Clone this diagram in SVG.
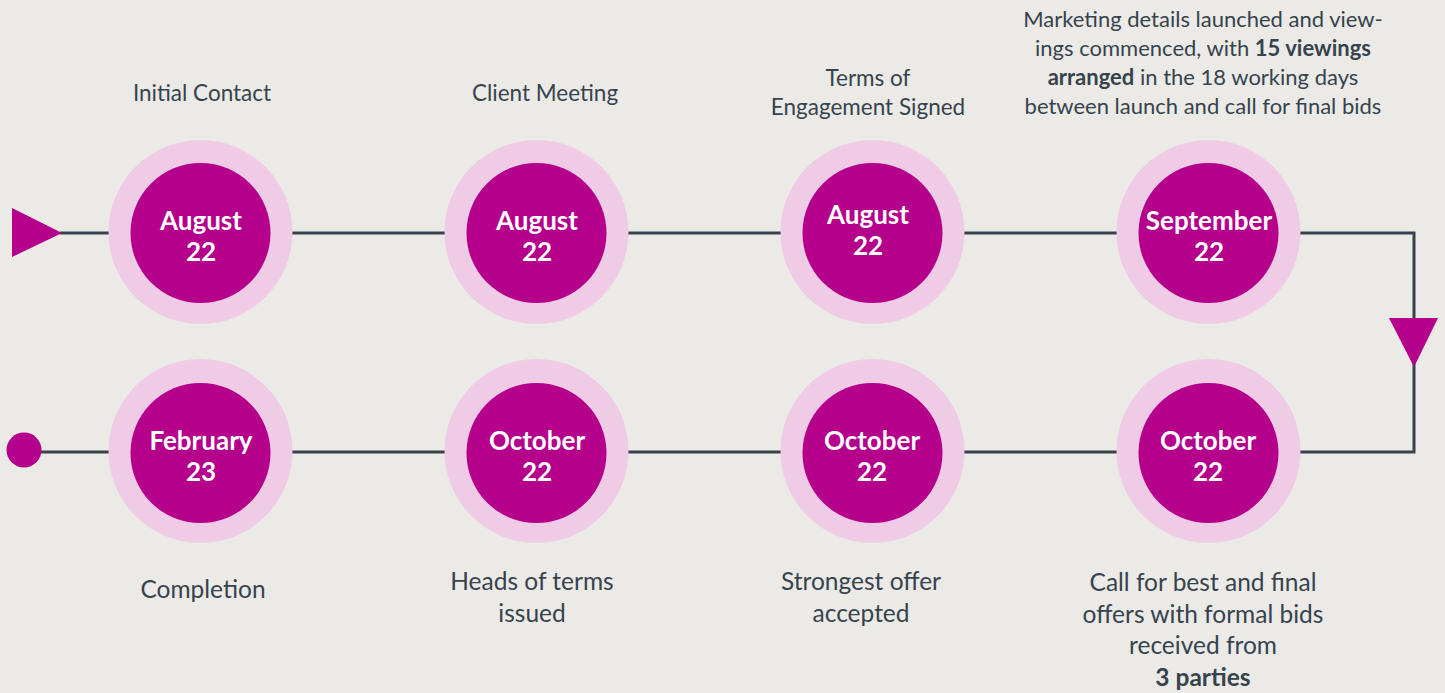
<svg xmlns="http://www.w3.org/2000/svg" width="1445" height="693" viewBox="0 0 1445 693">
<style>
.bg{fill:#ebeae6}
.outer{fill:#f0cbe5}
.inner{fill:#b4008b}
.date{font-family:Lato,"Open Sans",sans-serif;font-weight:700;font-size:26px;fill:#ffffff;text-anchor:middle}
.lbl{font-family:Lato,"Open Sans",sans-serif;font-size:22.5px;fill:#36434d;text-anchor:middle}
.sm{font-size:22px}
.lg{font-size:24.5px}
.b{font-weight:700}
.line{fill:none;stroke:#36434d;stroke-width:3}
.mark{fill:#b4008b}
</style>
<rect class="bg" x="0" y="0" width="1445" height="693"/>
<g id="connectors">
<path class="line" d="M60 233 H1414 V452 H24"/>
<polygon class="mark" points="12,208 12,257 62,233"/>
<polygon class="mark" points="1389,318 1438,318 1414,367"/>
<circle class="mark" cx="24" cy="450" r="17.5"/>
</g>
<g id="n1">
<circle class="outer" cx="200.5" cy="232" r="92"/>
<circle class="inner" cx="200.5" cy="233" r="70"/>
<text class="date" x="201" y="230">August</text>
<text class="date" x="201" y="261">22</text>
<text class="lbl" x="202" y="101">Initial Contact</text>
</g>
<g id="n2">
<circle class="outer" cx="536.5" cy="232" r="92"/>
<circle class="inner" cx="536.5" cy="233" r="70"/>
<text class="date" x="537" y="230">August</text>
<text class="date" x="537" y="261">22</text>
<text class="lbl" x="545" y="101">Client Meeting</text>
</g>
<g id="n3">
<circle class="outer" cx="872.5" cy="232" r="92"/>
<circle class="inner" cx="872.5" cy="233" r="70"/>
<text class="date" x="868" y="224">August</text>
<text class="date" x="868" y="255">22</text>
<text class="lbl" x="868" y="86">Terms of</text>
<text class="lbl" x="868" y="115">Engagement Signed</text>
</g>
<g id="n4">
<circle class="outer" cx="1208.5" cy="232" r="92"/>
<circle class="inner" cx="1208.5" cy="233" r="70"/>
<text class="date" x="1209" y="230">September</text>
<text class="date" x="1209" y="261">22</text>
<text class="lbl sm" x="1203" y="27">Marketing details launched and view-</text>
<text class="lbl sm" x="1203" y="56">ings commenced, with <tspan class="b">15 viewings</tspan></text>
<text class="lbl sm" x="1203" y="85"><tspan class="b">arranged</tspan> in the 18 working days</text>
<text class="lbl sm" x="1203" y="114">between launch and call for final bids</text>
</g>
<g id="n5">
<circle class="outer" cx="1208.5" cy="451" r="92"/>
<circle class="inner" cx="1208.5" cy="453" r="70"/>
<text class="date" x="1208" y="450">October</text>
<text class="date" x="1208" y="481">22</text>
<text class="lbl lg" x="1203" y="591">Call for best and final</text>
<text class="lbl lg" x="1203" y="623">offers with formal bids</text>
<text class="lbl lg" x="1203" y="654">received from</text>
<text class="lbl lg b" x="1203" y="686">3 parties</text>
</g>
<g id="n6">
<circle class="outer" cx="872.5" cy="451" r="92"/>
<circle class="inner" cx="872.5" cy="453" r="70"/>
<text class="date" x="872" y="450">October</text>
<text class="date" x="872" y="481">22</text>
<text class="lbl lg" x="861" y="590">Strongest offer</text>
<text class="lbl lg" x="861" y="622">accepted</text>
</g>
<g id="n7">
<circle class="outer" cx="536.5" cy="451" r="92"/>
<circle class="inner" cx="536.5" cy="453" r="70"/>
<text class="date" x="537" y="450">October</text>
<text class="date" x="537" y="481">22</text>
<text class="lbl lg" x="532" y="590">Heads of terms</text>
<text class="lbl lg" x="532" y="622">issued</text>
</g>
<g id="n8">
<circle class="outer" cx="200.5" cy="451" r="92"/>
<circle class="inner" cx="200.5" cy="453" r="70"/>
<text class="date" x="201" y="450">February</text>
<text class="date" x="201" y="481">23</text>
<text class="lbl lg" x="203" y="598">Completion</text>
</g>
</svg>
